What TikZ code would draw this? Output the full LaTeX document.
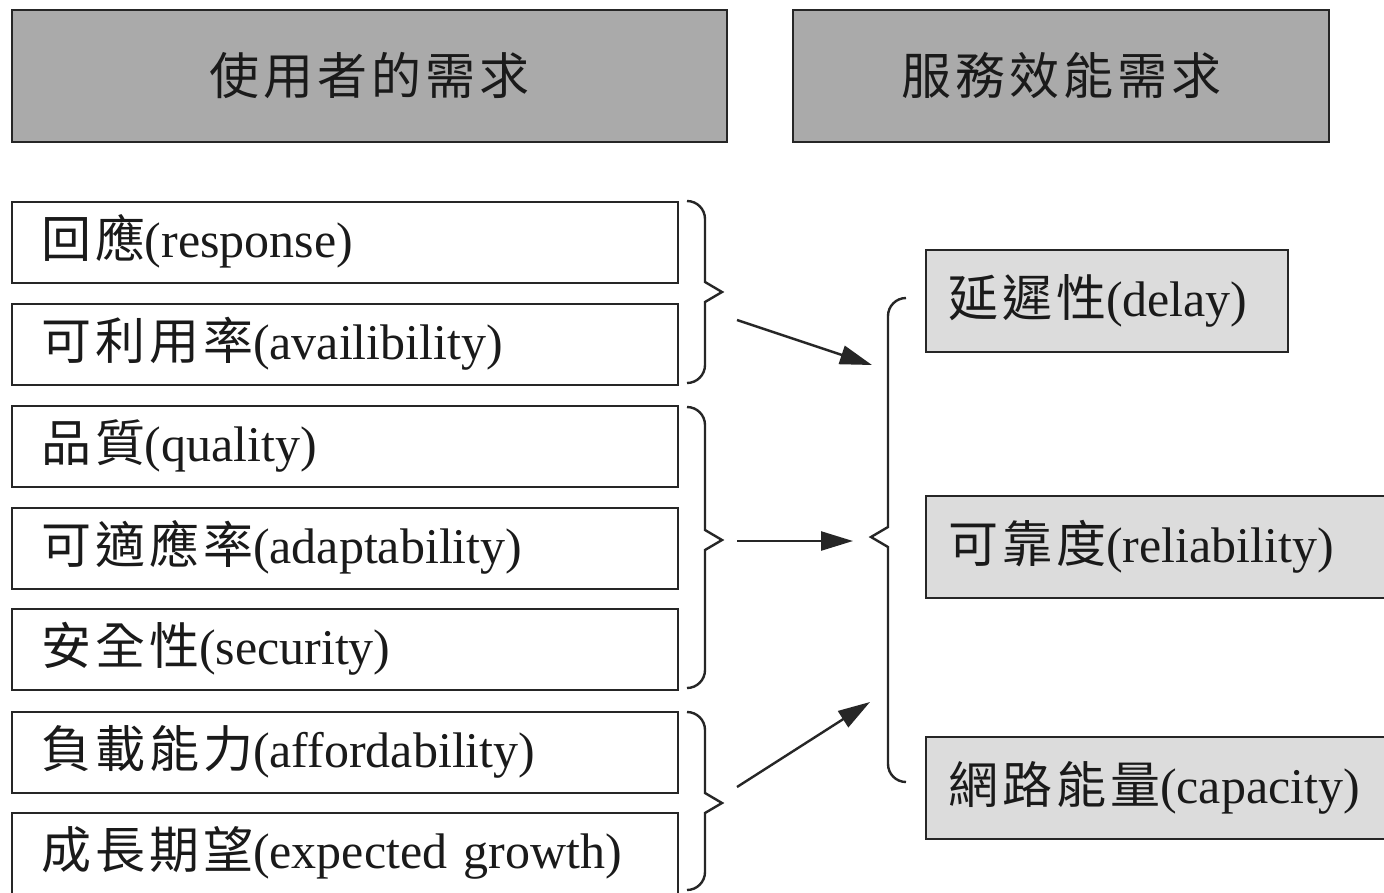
\documentclass[tikz,border=0pt]{standalone}
\usepackage{fontspec}
\setmainfont{Liberation Serif}
\newfontfamily\cjk[LetterSpace=8]{Noto Sans CJK TC}
\usetikzlibrary{arrows.meta}
\definecolor{linec}{HTML}{262626}
\definecolor{hdrgray}{HTML}{AAAAAA}
\definecolor{svcgray}{HTML}{DCDCDC}
\definecolor{txt}{HTML}{1A1A1A}
\begin{document}
\begin{tikzpicture}[x=1pt,y=-1pt,
  bigfont/.style={font=\fontsize{50}{60}\selectfont, text=txt},
  hdr/.style={draw=linec, line width=2pt, fill=hdrgray, anchor=north west,
    minimum height=132pt, inner sep=0pt, bigfont},
  item/.style={draw=linec, line width=2pt, fill=white, anchor=north west,
    minimum height=81pt, text width=608pt, inner xsep=29pt, inner ysep=0pt,
    align=left, text height=38pt, text depth=8pt, bigfont},
  svc/.style={draw=linec, line width=2pt, fill=svcgray, anchor=north west,
    minimum height=102pt, inner xsep=22pt, inner ysep=0pt,
    align=left, text height=38pt, text depth=8pt, bigfont},
  brace/.style={draw=linec, line width=2.4pt, line join=miter},
  conn/.style={draw=linec, line width=2.4pt, -{Triangle[length=32pt,width=19pt]}}
]
\clip (0,0) rectangle (1384,892);
\fill[white] (0,0) rectangle (1384,892);

% headers
\node[hdr, minimum width=715pt] (hu) at (11,9) {{\cjk 使用者的需求}};
\node[hdr, minimum width=536pt] (hs) at (792,9) {{\cjk 服務效能需求}};

% user requirement items
\node[item] (r1) at (11,201) {{\cjk 回應}(response)};
\node[item] (r2) at (11,303) {{\cjk 可利用率}(availibility)};
\node[item] (r3) at (11,405) {{\cjk 品質}(quality)};
\node[item] (r4) at (11,507) {{\cjk 可適應率}(adaptability)};
\node[item] (r5) at (11,608) {{\cjk 安全性}(security)};
\node[item] (r6) at (11,711) {{\cjk 負載能力}(affordability)};
\node[item] (r7) at (11,812) {{\cjk 成長期望}(expected growth)};

% service performance items
\node[svc, text width=318pt] (s1) at (925,249) {{\cjk 延遲性}(delay)};
\node[svc, text width=440pt] (s2) at (925,495) {{\cjk 可靠度}(reliability)};
\node[svc, text width=440pt] (s3) at (925,736) {{\cjk 網路能量}(capacity)};

% braces on the left group
\draw[brace] (687,201) [rounded corners=18pt] -- (705,201) -- (705,240) [sharp corners] -- (705,282) -- (722,292) -- (705,302) -- (705,340) [rounded corners=18pt] -- (705,383) -- (687,383);
\draw[brace] (687,407) [rounded corners=18pt] -- (705,407) -- (705,470) [sharp corners] -- (705,530) -- (722,540) -- (705,550) -- (705,620) [rounded corners=18pt] -- (705,688) -- (687,688);
\draw[brace] (687,712) [rounded corners=18pt] -- (705,712) -- (705,760) [sharp corners] -- (705,793) -- (722,803) -- (705,813) -- (705,850) [rounded corners=18pt] -- (705,890) -- (687,890);

% big brace on the right
\draw[brace] (906,298) [rounded corners=18pt] -- (888,298) -- (888,400) [sharp corners] -- (888,527) -- (871,537) -- (888,547) -- (888,680) [rounded corners=18pt] -- (888,782) -- (906,782);

% connectors
\coordinate (a1s) at (737,320);
\coordinate (a1e) at (872,365);
\coordinate (a2s) at (737,541);
\coordinate (a2e) at (853,541);
\coordinate (a3s) at (737,787);
\coordinate (a3e) at (870,702);
\draw[conn] (a1s) -- (a1e);
\draw[conn] (a2s) -- (a2e);
\draw[conn] (a3s) -- (a3e);
\end{tikzpicture}
\end{document}
